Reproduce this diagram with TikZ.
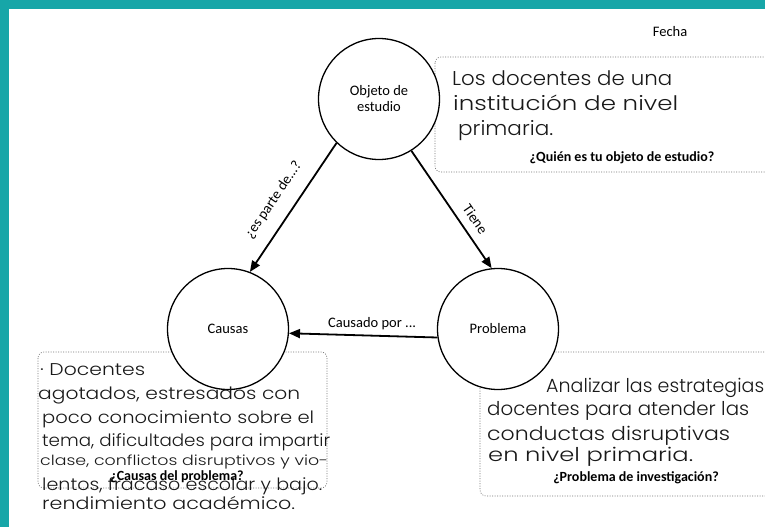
\documentclass[tikz,border=0pt]{standalone}
\usepackage{fontspec}
\usepackage{graphicx}
\setmainfont{Carlito}
\newfontfamily\handfont{Poppins Light}
\usetikzlibrary{arrows.meta}

\definecolor{marco}{RGB}{23,166,168}
% texto "a mano" estirado al ancho medido
\newcommand{\hw}[2]{\resizebox{#1pt}{\height}{#2}}

\tikzset{
  circ/.style={circle,draw,line width=1.3pt,fill=white,minimum size=121pt,
    align=center,font=\fontsize{14.5}{16}\selectfont},
  caja/.style={draw=black!55,line width=0.6pt,dash pattern=on 1pt off 1.5pt,
    rounded corners=6pt},
  flecha/.style={-{Triangle[length=11pt,width=9pt]},line width=1.8pt},
  etiq/.style={font=\fontsize{14.5}{16}\selectfont},
  preg/.style={font=\bfseries\fontsize{14}{16}\selectfont,inner sep=1pt},
  hand/.style={font=\handfont,text=black!90,inner sep=0pt,anchor=base west}
}

\begin{document}
\begin{tikzpicture}[x=1pt,y=-1pt]
% marco turquesa arriba e izquierda
\fill[marco] (0,0) rectangle (765,527);
\fill[white] (9,9) rectangle (765,527);
\useasboundingbox (0,0) rectangle (765,527);
\node[etiq] (fecha) at (670,32) {Fecha};

% cajas punteadas (los circulos las tapan)
\draw[caja] (435,57) rectangle (800,172);
\draw[caja] (38,352) rectangle (327,488);
\draw[caja] (480,352) rectangle (800,496);

% circulos
\node[circ] (obj) at (379,99) {Objeto de\\estudio};
\node[circ] (causas) at (228,329) {Causas};
\node[circ] (prob) at (498,329) {Problema};

% flechas
\draw[flecha] (obj.226) -- node[etiq,sloped,above=10pt,pos=0.53] (esparte) {¿es parte de...?} (causas.69);
\draw[flecha] (obj.302) -- node[etiq,sloped,above=5pt,pos=0.65] (tiene) {Tiene} (prob.96);
\draw[flecha] (prob.188) -- node[etiq,above=2pt,pos=0.44] (causado) {Causado por ...} (causas.-4);

% objeto de estudio
\foreach \x/\y/\w/\s/\t [count=\i] in {452/85/220/20/{Los docentes de una},
    453/110/225/20/{institución de nivel}, 458/135/95/20/{primaria.}}
  \node[hand] (objt\i) at (\x,\y) {\fontsize{\s}{\s}\selectfont\hw{\w}{\t}};
\node[preg] (pobj) at (622,158) {¿Quién es tu objeto de estudio?};

% causas
\foreach \x/\y/\w/\s/\t [count=\i] in {40/375/105/17/{·~Docentes},
    38/399/262/17/{agotados, estresados con}, 42/423/272/17/{poco conocimiento sobre el},
    42/446/288/17/{tema, dificultades para impartir},
    40/465/288/14/{clase, conflictos disruptivos y vio-},
    42/490/280/17/{lentos, fracaso escolar y bajo.}, 42/509/253/17/{rendimiento académico.}}
  \node[hand] (caust\i) at (\x,\y) {\fontsize{\s}{\s}\selectfont\hw{\w}{\t}};
\node[preg] (pcaus) at (177,477) {¿Causas del problema?};

% problema
\foreach \x/\y/\w/\s/\t [count=\i] in {546/392/218/19/{Analizar las estrategias},
    487/415/262/19/{docentes para atender las}, 487/440/243/19/{conductas disruptivas},
    488/461/205/19/{en nivel primaria.}}
  \node[hand] (probt\i) at (\x,\y) {\fontsize{\s}{\s}\selectfont\hw{\w}{\t}};
\node[preg] (pprob) at (636,478) {¿Problema de investigación?};
\end{tikzpicture}
\end{document}
